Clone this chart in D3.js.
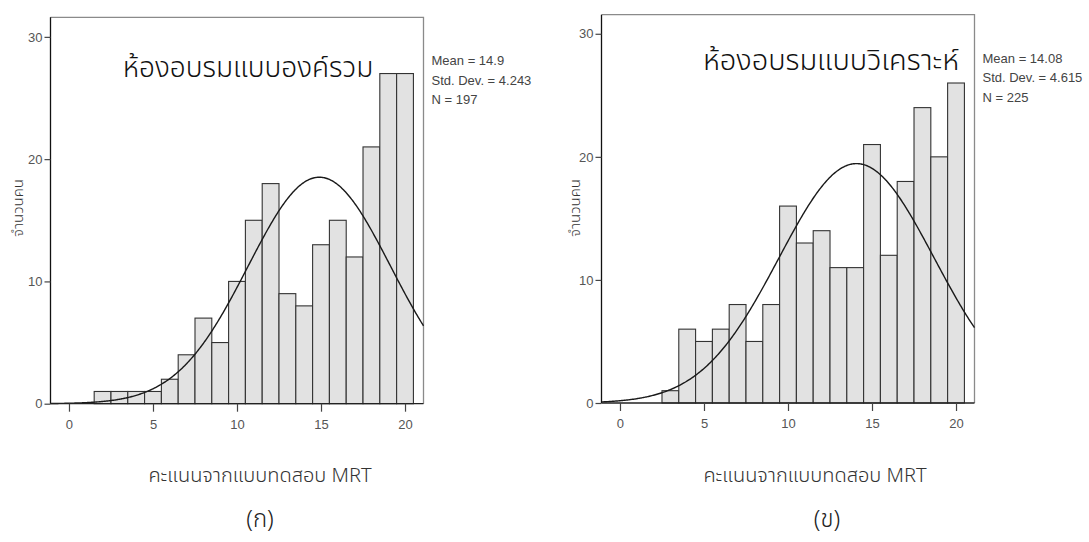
<!DOCTYPE html>
<html>
<head>
<meta charset="utf-8">
<script src="https://cdn.jsdelivr.net/npm/d3@7"></script>
<style>
  html, body { margin: 0; padding: 0; background: #fff; }
  svg { display: block; }
  .thai { font-family: "Noto Sans Thai", "Noto Sans Thai UI", "Loma", "Garuda", "Tlwg Typo", "Laksaman", "Norasi", sans-serif; }
  .num { font-family: "Liberation Sans", Arial, sans-serif; }
</style>
</head>
<body>
<svg id="chart" width="1089" height="542"></svg>
<script>
// Score bins (bin centres, width 1)
const binsA = [2, 3, 4, 5, 6, 7, 8, 9, 10, 11, 12, 13, 14, 15, 16, 17, 18, 19, 20];
const countsA = [1, 1, 1, 1, 2, 4, 7, 5, 10, 15, 18, 9, 8, 13, 15, 12, 21, 27, 27];

const binsB = [3, 4, 5, 6, 7, 8, 9, 10, 11, 12, 13, 14, 15, 16, 17, 18, 19, 20];
const countsB = [1, 6, 5, 6, 8, 5, 8, 16, 13, 14, 11, 11, 21, 12, 18, 24, 20, 26];

// Summary statistics of each group
const means = [14.9, 14.08];
const stdDevs = [4.243, 4.615];
const sizes = [197, 225];
const statLabels = [
  ["Mean = 14.9", "Std. Dev. = 4.243", "N = 197"],
  ["Mean = 14.08", "Std. Dev. = 4.615", "N = 225"]
];

const titles = ["ห้องอบรมแบบองค์รวม", "ห้องอบรมแบบวิเคราะห์"];
const captions = ["(ก)", "(ข)"];
const xTicks = [0, 5, 10, 15, 20];
const yTicks = [0, 10, 20, 30];
const xTitle = "คะแนนจากแบบทดสอบ MRT";
const yTitle = "จำนวนคน";

const svg = d3.select("#chart");

const panels = [
  { bins: binsA, counts: countsA, xr: [50.5, 423.5], yr: [403.7, 17.3], yMax: 31.6,
    titleX: 248, titleY: 77, titleSize: 28, yLabX: 19, xTitleX: 260, capX: 260 },
  { bins: binsB, counts: countsB, xr: [601.5, 974.5], yr: [403, 14.7], yMax: 31.55,
    titleX: 831, titleY: 70, titleSize: 29, yLabX: 576, xTitleX: 815, capX: 827 }
];

panels.forEach((p, i) => {
  const x = d3.scaleLinear().domain([-1.1, 21.1]).range(p.xr);
  const y = d3.scaleLinear().domain([0, p.yMax]).range(p.yr);
  const g = svg.append("g");

  const [x0, x1] = x.range();
  const [yb, yt] = y.range();

  // Plot frame: top and right edges in grey
  g.append("path")
    .attr("d", `M${x0},${yt}H${x1}V${yb}`)
    .attr("fill", "none").attr("stroke", "#8a8a8a").attr("stroke-width", 1.3);

  // Histogram bars
  g.selectAll("rect.bar").data(p.bins).join("rect")
    .attr("class", "bar")
    .attr("x", d => x(d - 0.5))
    .attr("width", d => x(d + 0.5) - x(d - 0.5))
    .attr("y", (d, j) => y(p.counts[j]))
    .attr("height", (d, j) => y(0) - y(p.counts[j]))
    .attr("fill", "#e2e2e2")
    .attr("stroke", "#333")
    .attr("stroke-width", 1.1);

  // Fitted normal curve scaled to counts (bin width 1)
  const m = means[i], s = stdDevs[i], n = sizes[i];
  const dens = v => n / (s * Math.sqrt(2 * Math.PI)) * Math.exp(-0.5 * ((v - m) / s) ** 2);
  const xs = d3.range(-1.1, 21.1001, 0.05);
  g.append("path")
    .datum(xs)
    .attr("d", d3.line().x(v => x(v)).y(v => y(dens(v))))
    .attr("fill", "none").attr("stroke", "#1a1a1a").attr("stroke-width", 1.4);

  // Axes
  const yAxis = d3.axisLeft(y).tickValues(yTicks).tickSize(6).tickPadding(2).tickSizeOuter(0);
  const gy = g.append("g").attr("transform", `translate(${x0},0)`).call(yAxis);
  gy.select(".domain").attr("d", `M0,${yt}V${yb}`).attr("stroke", "#111").attr("stroke-width", 1.3);
  gy.selectAll(".tick line").attr("stroke", "#444").attr("stroke-width", 1.2);
  gy.selectAll(".tick text").attr("class", "num").attr("font-size", 13).attr("fill", "#555");

  const xAxis = d3.axisBottom(x).tickValues(xTicks).tickSize(8).tickPadding(8).tickSizeOuter(0);
  const gx = g.append("g").attr("transform", `translate(0,${yb})`).call(xAxis);
  gx.select(".domain").attr("d", `M${x0},0H${x1}`).attr("stroke", "#222").attr("stroke-width", 1.3);
  gx.selectAll(".tick line").attr("stroke", "#444").attr("stroke-width", 1.2);
  gx.selectAll(".tick text").attr("class", "num").attr("font-size", 13).attr("fill", "#555");

  // Panel title
  g.append("text").attr("class", "thai")
    .attr("x", p.titleX).attr("y", p.titleY)
    .attr("text-anchor", "middle").attr("font-size", p.titleSize)
    .attr("font-weight", 300).attr("fill", "#111")
    .text(titles[i]);

  // Summary statistics
  g.append("g").selectAll("text").data(statLabels[i]).join("text")
    .attr("class", "num")
    .attr("x", x1 + 8)
    .attr("y", (d, k) => yt + 48 + k * 19.5)
    .attr("font-size", 13).attr("fill", "#444")
    .text(d => d);

  // Axis titles
  g.append("text").attr("class", "thai")
    .attr("transform", `translate(${p.yLabX},208) rotate(-90)`)
    .attr("text-anchor", "middle").attr("dominant-baseline", "middle")
    .attr("font-size", 15).attr("font-weight", 300).attr("fill", "#333")
    .text(yTitle);

  g.append("text").attr("class", "thai")
    .attr("x", p.xTitleX).attr("y", 482)
    .attr("text-anchor", "middle").attr("font-size", 20)
    .attr("font-weight", 300).attr("fill", "#333")
    .text(xTitle);

  g.append("text").attr("class", "thai")
    .attr("x", p.capX).attr("y", 527)
    .attr("text-anchor", "middle").attr("font-size", 24)
    .attr("font-weight", 300).attr("fill", "#222")
    .text(captions[i]);
});
</script>
</body>
</html>
